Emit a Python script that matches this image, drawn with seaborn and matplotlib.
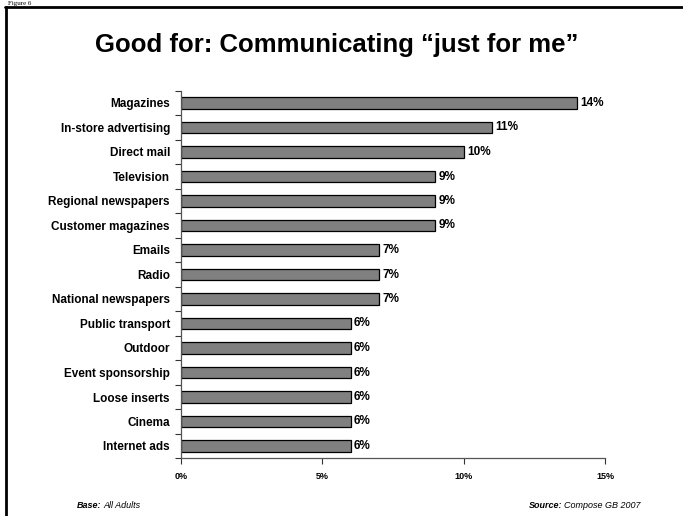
import matplotlib
matplotlib.use("Agg")
import matplotlib.pyplot as plt
import seaborn as sns
import pandas as pd
import numpy as np
from matplotlib.lines import Line2D

categories = ["Magazines", "In-store advertising", "Direct mail", "Television",
              "Regional newspapers", "Customer magazines", "Emails", "Radio",
              "National newspapers", "Public transport", "Outdoor",
              "Event sponsorship", "Loose inserts", "Cinema", "Internet ads"]
values = [14, 11, 10, 9, 9, 9, 7, 7, 7, 6, 6, 6, 6, 6, 6]
x_ticks = [0, 5, 10, 15]
x_tick_labels = ["0%", "5%", "10%", "15%"]

sns.set_theme(style="white")
plt.rcParams['font.family'] = ['Liberation Sans', 'DejaVu Sans']
plt.rcParams['text.color'] = 'black'
plt.rcParams['xtick.color'] = 'black'
plt.rcParams['ytick.color'] = 'black'
plt.rcParams['xtick.labelcolor'] = 'black'
plt.rcParams['ytick.labelcolor'] = 'black'

df = pd.DataFrame({"cat": categories, "val": values})

W, H = 683, 516
fig = plt.figure(figsize=(W/100, H/100), dpi=100)
ax = fig.add_axes([181/W, 1-458.25/H, (605-181)/W, (458.25-90.75)/H])

sns.barplot(data=df, x="val", y="cat", orient="h", color="#808080",
            edgecolor="black", linewidth=0.9, width=0.45, saturation=1, ax=ax)

ax.set_xlim(0, 15)
ax.set_ylim(14.5, -0.5)
ax.set_xlabel("")
ax.set_ylabel("")
ax.set_xticks(x_ticks)
ax.set_xticklabels(x_tick_labels, fontsize=6.5, fontweight="bold", color="black")
ax.set_yticks(range(len(categories)))
ax.set_yticklabels(categories, fontsize=8.5, fontweight="bold", color="black")
ax.set_yticks(np.arange(-0.5, len(categories), 1), minor=True)
ax.tick_params(axis="y", which="major", length=0, pad=8)
ax.tick_params(axis="y", which="minor", length=4, width=0.8, color="#333333", direction="out", left=True)
ax.tick_params(axis="x", which="major", length=4, width=0.8, color="#333333", direction="out", bottom=True, pad=6)
for s in ["top", "right"]:
    ax.spines[s].set_visible(False)
for s in ["left", "bottom"]:
    ax.spines[s].set_color("#555555")
    ax.spines[s].set_linewidth(0.9)

for i, v in enumerate(values):
    ax.text(v + 0.12, i, f"{v}%", va="center", ha="left", fontsize=8.5, fontweight="bold", color="black")

fig.text(337/W, 1-45/H, "Good for: Communicating \u201cjust for me\u201d", ha="center", va="center",
         fontsize=18.5, fontweight="bold", color="black")

fig.text(77/W, 1-505/H, "Base:", ha="left", va="center", fontsize=6.5, fontweight="bold", style="italic")
fig.text(103/W, 1-505/H, "All Adults", ha="left", va="center", fontsize=6.5, style="italic")
fig.text(562/W, 1-505/H, "Source:", ha="right", va="center", fontsize=6.5, fontweight="bold", style="italic")
fig.text(564/W, 1-505/H, "Compose GB 2007", ha="left", va="center", fontsize=6.5, style="italic")

fig.text(8/W, 1-0.5/H, "Figure 6", ha="left", va="top", fontsize=5, family="Liberation Serif")

fig.add_artist(Line2D([6/W, 6/W], [0, 1-7/H], color="black", linewidth=2, transform=fig.transFigure))
fig.add_artist(Line2D([5/W, 1], [1-7/H, 1-7/H], color="black", linewidth=2, transform=fig.transFigure))

fig.savefig("out.png", dpi=100)
